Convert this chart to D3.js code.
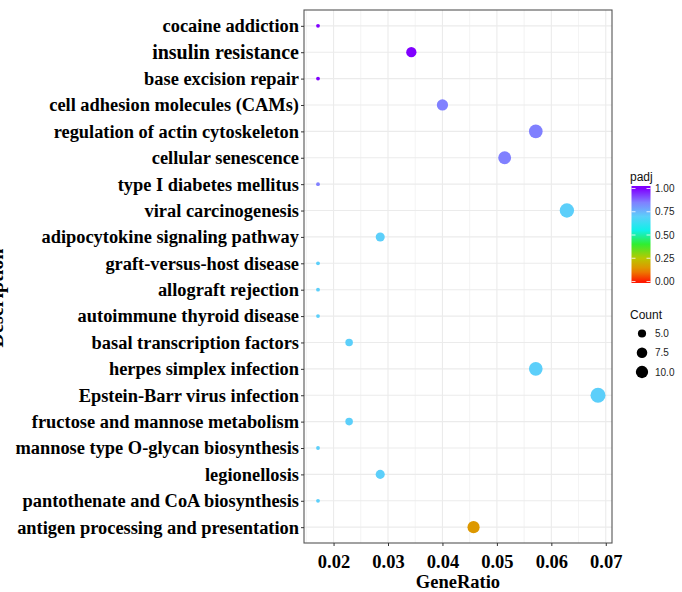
<!DOCTYPE html>
<html>
<head>
<meta charset="utf-8">
<script src="https://cdn.jsdelivr.net/npm/d3@7/dist/d3.min.js"></script>
<style>
  html, body { margin: 0; padding: 0; background: #fff; }
  svg { display: block; }
</style>
</head>
<body>
<svg id="chart" width="682" height="592"></svg>
<script>
// ---- data ----
const descriptions = [
  "cocaine addiction",
  "insulin resistance",
  "base excision repair",
  "cell adhesion molecules (CAMs)",
  "regulation of actin cytoskeleton",
  "cellular senescence",
  "type I diabetes mellitus",
  "viral carcinogenesis",
  "adipocytokine signaling pathway",
  "graft-versus-host disease",
  "allograft rejection",
  "autoimmune thyroid disease",
  "basal transcription factors",
  "herpes simplex infection",
  "Epstein-Barr virus infection",
  "fructose and mannose metabolism",
  "mannose type O-glycan biosynthesis",
  "legionellosis",
  "pantothenate and CoA biosynthesis",
  "antigen processing and presentation"
];
const counts = [3, 6, 3, 7, 10, 9, 3, 11, 5, 3, 3, 3, 4, 10, 12, 4, 3, 5, 3, 8];
const geneRatio = [
  3/175, 6/175, 3/175, 7/175, 10/175, 9/175, 3/175, 11/175, 5/175, 3/175,
  3/175, 3/175, 4/175, 10/175, 12/175, 4/175, 3/175, 5/175, 3/175, 8/175
];
const padj = [1.0, 1.0, 1.0, 0.85, 0.85, 0.85, 0.85, 0.7, 0.7, 0.7,
              0.7, 0.7, 0.7, 0.7, 0.7, 0.7, 0.7, 0.7, 0.7, 0.15];
const xTicks = [0.02, 0.03, 0.04, 0.05, 0.06, 0.07];
const xMinorTicks = [0.015, 0.025, 0.035, 0.045, 0.055, 0.065];
const padjTicks = [0, 0.25, 0.5, 0.75, 1.0];
const countLegend = [5.0, 7.5, 10.0];

// ---- layout ----
const svg = d3.select("#chart");
const P = { left: 304, right: 612, top: 10, bottom: 543 };
const serif = "'Liberation Serif', 'Times New Roman', serif";
const sans = "'Liberation Sans', Arial, sans-serif";

const rows = descriptions.map((d, i) => ({
  desc: d, count: counts[i], ratio: geneRatio[i], padj: padj[i]
}));

const ext = d3.extent(geneRatio);
const pad = (ext[1] - ext[0]) * 0.05;
const x = d3.scaleLinear().domain([ext[0] - pad, ext[1] + pad]).range([P.left, P.right]);
const y = d3.scalePoint().domain(descriptions).range([P.top, P.bottom]).padding(0.6);

const cExt = d3.extent(counts);
const rBase = d3.scaleLinear().domain([0, 1]).range([1.9, 7.5]);
const r = c => rBase(Math.sqrt(Math.max(0, (c - cExt[0]) / (cExt[1] - cExt[0]))));

const colorStops = [0, 0.12, 0.25, 0.4, 0.55, 0.7, 0.85, 1.0];
const colorVals = ["#ff1a00", "#e88a00", "#b8c800", "#30ee30", "#10f0e8", "#5ccffa", "#8080ff", "#8000ff"];
const color = d3.scaleLinear().domain(colorStops).range(colorVals).interpolate(d3.interpolateRgb);

// ---- panel grid ----
const g = svg.append("g");
g.selectAll("line.minor").data(xMinorTicks.filter(t => x(t) > P.left)).enter().append("line")
  .attr("x1", d => x(d)).attr("x2", d => x(d)).attr("y1", P.top).attr("y2", P.bottom)
  .attr("stroke", "#ebebeb").attr("stroke-width", 0.6);
g.selectAll("line.vmajor").data(xTicks).enter().append("line")
  .attr("x1", d => x(d)).attr("x2", d => x(d)).attr("y1", P.top).attr("y2", P.bottom)
  .attr("stroke", "#ebebeb").attr("stroke-width", 1.1);
g.selectAll("line.hmajor").data(descriptions).enter().append("line")
  .attr("x1", P.left).attr("x2", P.right).attr("y1", d => y(d)).attr("y2", d => y(d))
  .attr("stroke", "#ebebeb").attr("stroke-width", 1.1);

// ---- points ----
g.selectAll("circle.pt").data(rows).enter().append("circle")
  .attr("cx", d => x(d.ratio)).attr("cy", d => y(d.desc))
  .attr("r", d => r(d.count)).attr("fill", d => color(d.padj));

// ---- border ----
svg.append("rect").attr("x", P.left).attr("y", P.top)
  .attr("width", P.right - P.left).attr("height", P.bottom - P.top)
  .attr("fill", "none").attr("stroke", "#555").attr("stroke-width", 1.1);

// ---- axes ----
const xAxis = d3.axisBottom(x).tickValues(xTicks).tickSize(3).tickPadding(4).tickFormat(d3.format(".2f"));
const xg = svg.append("g").attr("transform", `translate(0,${P.bottom})`).call(xAxis);
xg.select(".domain").remove();
xg.selectAll(".tick line").attr("stroke", "#333");
xg.selectAll(".tick text").attr("font-family", serif).attr("font-weight", "bold")
  .attr("font-size", 18.5).attr("fill", "#000").attr("dy", "0.95em");

const yAxis = d3.axisLeft(y).tickSize(3).tickPadding(2);
const yg = svg.append("g").attr("transform", `translate(${P.left},0)`).call(yAxis);
yg.select(".domain").remove();
yg.selectAll(".tick line").attr("stroke", "#333");
yg.selectAll(".tick text").attr("font-family", serif).attr("font-weight", "bold")
  .attr("font-size", d => d === "insulin resistance" ? 20 : 18.4).attr("fill", "#000");

svg.append("text").attr("x", (P.left + P.right) / 2).attr("y", 588)
  .attr("text-anchor", "middle").attr("font-family", serif).attr("font-weight", "bold")
  .attr("font-size", 18.5).attr("fill", "#000").text("GeneRatio");

svg.append("text").attr("transform", "translate(2.5,298) rotate(-90)")
  .attr("text-anchor", "middle").attr("font-family", serif).attr("font-weight", "bold")
  .attr("font-size", 20).attr("fill", "#000").text("Description");

// ---- colour legend ----
const L = { x: 631.5, w: 19, top: 186, bottom: 283 };
const cbar = d3.scaleLinear().domain([0, 1]).range([281.5, 188.5]);
svg.append("text").attr("x", 630).attr("y", 181).attr("font-family", sans)
  .attr("font-size", 12).attr("fill", "#111").text("padj");
const defs = svg.append("defs");
const grad = defs.append("linearGradient").attr("id", "padjGrad")
  .attr("x1", 0).attr("y1", 1).attr("x2", 0).attr("y2", 0);
const yToOffset = v => (L.bottom - cbar(v)) / (L.bottom - L.top);
d3.range(0, 1.0001, 0.05).forEach(v => {
  grad.append("stop").attr("offset", yToOffset(v)).attr("stop-color", color(v));
});
svg.append("rect").attr("x", L.x).attr("y", L.top).attr("width", L.w)
  .attr("height", L.bottom - L.top).attr("fill", "url(#padjGrad)");
padjTicks.forEach(v => {
  svg.append("line").attr("x1", L.x).attr("x2", L.x + 4).attr("y1", cbar(v)).attr("y2", cbar(v))
    .attr("stroke", "#fff").attr("stroke-width", 0.8);
  svg.append("line").attr("x1", L.x + L.w - 4).attr("x2", L.x + L.w).attr("y1", cbar(v)).attr("y2", cbar(v))
    .attr("stroke", "#fff").attr("stroke-width", 0.8);
});
svg.selectAll("text.plab").data(padjTicks).enter().append("text")
  .attr("x", 655).attr("y", d => cbar(d)).attr("dy", "0.35em")
  .attr("font-family", sans).attr("font-size", 10).attr("fill", "#222")
  .text(d => d3.format(".2f")(d));

// ---- size legend ----
svg.append("text").attr("x", 630).attr("y", 319).attr("font-family", sans)
  .attr("font-size", 12).attr("fill", "#111").text("Count");
const sy = d3.scalePoint().domain(countLegend).range([333.5, 372]);
svg.selectAll("circle.sz").data(countLegend).enter().append("circle")
  .attr("cx", 642).attr("cy", d => sy(d)).attr("r", d => r(d) * 0.9).attr("fill", "#000");
svg.selectAll("text.slab").data(countLegend).enter().append("text")
  .attr("x", 655).attr("y", d => sy(d)).attr("dy", "0.35em")
  .attr("font-family", sans).attr("font-size", 10).attr("fill", "#222")
  .text(d => d3.format(".1f")(d));
</script>
</body>
</html>
